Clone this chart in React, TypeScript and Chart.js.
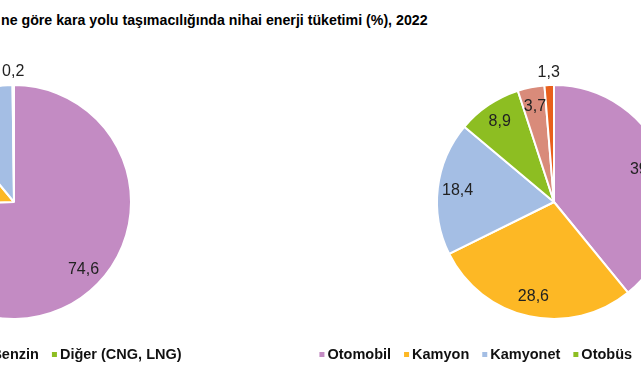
import React, { useEffect, useRef } from "react";
import { Chart, registerables } from "chart.js";

Chart.register(...registerables);

const titleText = "ne göre kara yolu taşımacılığında nihai enerji tüketimi (%), 2022";

const fuelLabels = ["Motorin", "LPG", "Benzin", "Diğer (CNG, LNG)"];
const fuelValues = [74.6, 14.4, 10.8, 0.2];
const fuelColors = ["#C38BC3", "#FDB825", "#A4BEE4", "#8DBE22"];

const vehicleLabels = ["Otomobil", "Kamyon", "Kamyonet", "Otobüs", "Minibüs", "Motosiklet"];
const vehicleValues = [39.1, 28.6, 18.4, 8.9, 3.7, 1.3];
const vehicleColors = ["#C38BC3", "#FDB825", "#A4BEE4", "#8DBE22", "#D98B7A", "#E8601C"];

const FONT = "'Liberation Sans', Arial, sans-serif";

const sliceLabels = {
  id: "sliceLabels",
  afterDatasetsDraw(chart: any) {
    const ctx = chart.ctx;
    const meta = chart.getDatasetMeta(0);
    const data = chart.data.datasets[0].data as number[];
    ctx.save();
    ctx.font = `16px ${FONT}`;
    ctx.fillStyle = "#222222";
    ctx.textAlign = "center";
    ctx.textBaseline = "middle";
    meta.data.forEach((arc: any, i: number) => {
      const p = arc.getProps(["x", "y", "startAngle", "endAngle", "outerRadius"], true);
      const mid = (p.startAngle + p.endAngle) / 2;
      const v = data[i];
      const d = v < 2 ? p.outerRadius + 13 : p.outerRadius * 0.83;
      ctx.fillText(v.toFixed(1).replace(".", ","), p.x + Math.cos(mid) * d, p.y + Math.sin(mid) * d);
    });
    ctx.restore();
  },
};

// Compact bottom legend: small square, 3px gap, bold text, 13px between items
const compactLegend = {
  id: "compactLegend",
  afterDraw(chart: any, _args: any, opts: any) {
    const ctx = chart.ctx;
    const labels = chart.data.labels as string[];
    const colors = chart.data.datasets[0].backgroundColor as string[];
    const box = 5;
    const gapText = 3;
    const gapItem = 13;
    const shift = (opts && opts.offsetX) || 0;
    ctx.save();
    ctx.font = `bold 14.5px ${FONT}`;
    ctx.textBaseline = "middle";
    ctx.textAlign = "left";
    const widths = labels.map((l) => ctx.measureText(l).width);
    const total = widths.reduce((a, w) => a + box + gapText + w, 0) + gapItem * (labels.length - 1);
    const cx = (chart.chartArea.left + chart.chartArea.right) / 2 + shift;
    const y = chart.height - 25;
    let x = cx - total / 2;
    labels.forEach((l, i) => {
      ctx.fillStyle = colors[i];
      ctx.fillRect(x, y - box / 2 - 0.5, box, box);
      x += box + gapText;
      ctx.fillStyle = "#111111";
      ctx.fillText(l, x, y);
      x += widths[i] + gapItem;
    });
    ctx.restore();
  },
};

function PieChart(props: { labels: string[]; values: number[]; colors: string[]; width: number; left: number }) {
  const ref = useRef<HTMLCanvasElement | null>(null);
  useEffect(() => {
    if (!ref.current) return;
    const chart = new Chart(ref.current, {
      type: "pie",
      data: {
        labels: props.labels,
        datasets: [
          {
            data: props.values,
            backgroundColor: props.colors,
            borderColor: "#ffffff",
            borderWidth: 2,
            hoverOffset: 0,
          },
        ],
      },
      options: {
        responsive: false,
        animation: false,
        radius: 117,
        layout: { padding: { top: 10, bottom: 26, left: 0, right: 0 } },
        plugins: {
          tooltip: { enabled: false },
          legend: { display: false },
          compactLegend: { offsetX: 6 },
        },
      } as any,
      plugins: [sliceLabels, compactLegend],
    });
    return () => chart.destroy();
  }, []);
  return (
    <canvas
      ref={ref}
      width={props.width}
      height={340}
      style={{ position: "absolute", left: props.left, top: 40, width: props.width, height: 340 }}
    />
  );
}

export default function App() {
  return (
    <div
      style={{
        position: "fixed",
        left: 0,
        top: 0,
        width: 641,
        height: 380,
        overflow: "hidden",
        background: "#ffffff",
      }}
    >
      <div
        style={{
          position: "absolute",
          left: 1,
          top: 12,
          whiteSpace: "nowrap",
          fontFamily: FONT,
          fontWeight: "bold",
          fontSize: "14.2px",
          lineHeight: "16px",
          color: "#000000",
        }}
      >
        {titleText}
      </div>
      <PieChart labels={fuelLabels} values={fuelValues} colors={fuelColors} width={400} left={14 - 200} />
      <PieChart labels={vehicleLabels} values={vehicleValues} colors={vehicleColors} width={600} left={554 - 300} />
    </div>
  );
}
